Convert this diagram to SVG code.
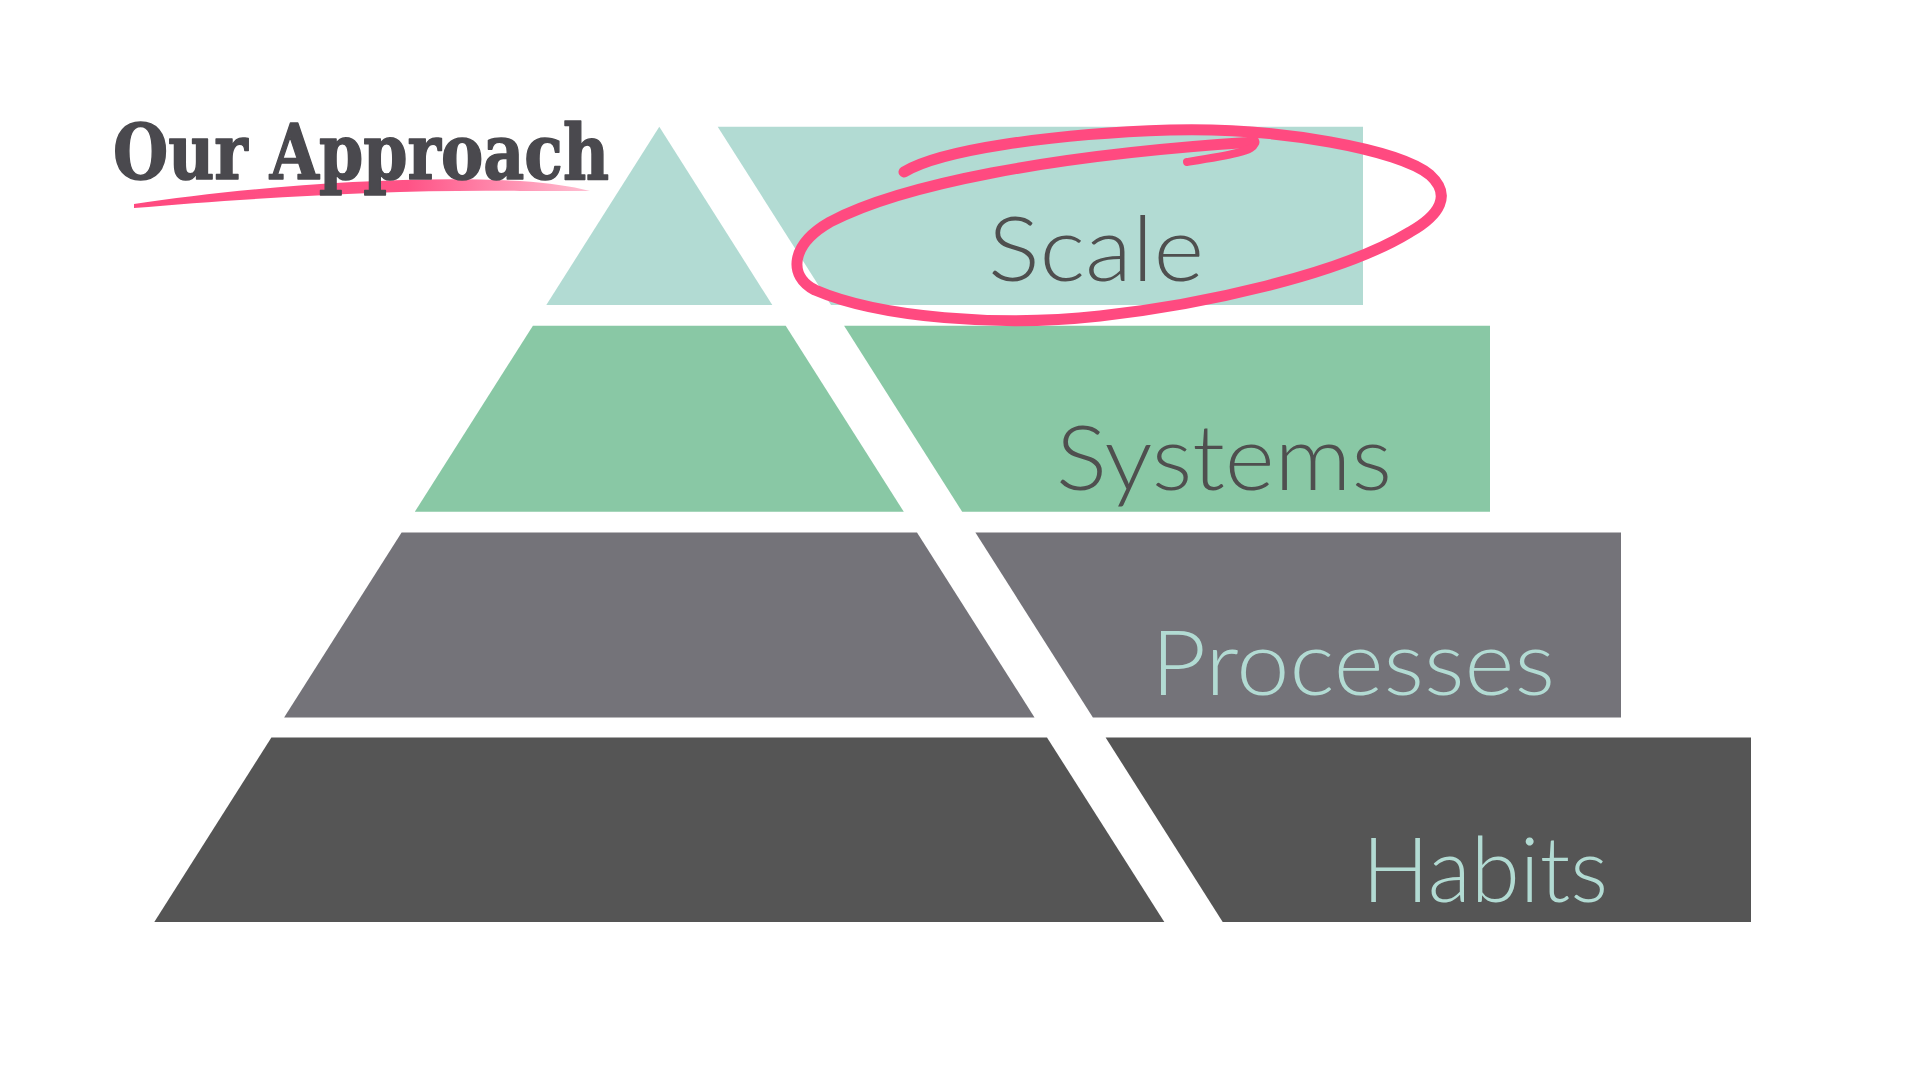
<svg xmlns="http://www.w3.org/2000/svg" width="1920" height="1080" viewBox="0 0 1920 1080">
  <defs>
    <style>
      .t1 { fill: #B2DBD3; }
      .t2 { fill: #89C8A5; }
      .t3 { fill: #747379; }
      .t4 { fill: #555555; }
      .lbl { font-family: Lato, "Open Sans", "Liberation Sans", sans-serif; font-weight: 300; font-size: 90px; }
      .dark { fill: #4F4F4F; }
      .light { fill: #B2DBD3; }
      .title { font-family: "DejaVu Serif", "Liberation Serif", serif; font-weight: bold; font-size: 76px; fill: #4A494E; stroke: #4A494E; stroke-width: 1.6px; stroke-linejoin: round; }
      .pen { fill: none; stroke: #FF4A80; stroke-linecap: round; stroke-linejoin: round; }
    </style>
    <linearGradient id="brush" x1="134" y1="0" x2="590" y2="0" gradientUnits="userSpaceOnUse">
      <stop offset="0" stop-color="#FF4A80" stop-opacity="1"/>
      <stop offset="0.6" stop-color="#FF4A80" stop-opacity="0.95"/>
      <stop offset="1" stop-color="#FF4A80" stop-opacity="0.35"/>
    </linearGradient>
  </defs>
  <rect width="1920" height="1080" fill="#FFFFFF"/>

  <g id="title">
    <path d="M134,204 C240,188 400,174 520,181 C550,183 570,186 590,191 C560,191 540,191 520,191 C400,189 250,198 134,208 Z" fill="url(#brush)"/>
    <text class="title" x="113" y="179" textLength="496" lengthAdjust="spacingAndGlyphs">Our Approach</text>
  </g>

  <g id="tier-scale">
    <polygon class="t1" points="659.3,126.7 772.3,305 546.3,305"/>
    <polygon class="t1" points="717.7,126.7 1363,126.7 1363,305 831,305"/>
    <text class="lbl dark" x="988" y="281" textLength="216" lengthAdjust="spacingAndGlyphs">Scale</text>
  </g>

  <g id="tier-systems">
    <polygon class="t2" points="532.9,325.7 785.7,325.7 903.8,511.8 414.8,511.8"/>
    <polygon class="t2" points="844.1,325.7 1490,325.7 1490,511.8 962.2,511.8"/>
    <text class="lbl dark" x="1056" y="490" textLength="336" lengthAdjust="spacingAndGlyphs">Systems</text>
  </g>

  <g id="tier-processes">
    <polygon class="t3" points="401.6,532.5 917,532.5 1034.5,717.5 284.1,717.5"/>
    <polygon class="t3" points="975.4,532.5 1621,532.5 1621,717.5 1092.9,717.5"/>
    <text class="lbl light" x="1151" y="695" textLength="404" lengthAdjust="spacingAndGlyphs">Processes</text>
  </g>

  <g id="tier-habits">
    <polygon class="t4" points="271.4,737.5 1047,737.5 1164.3,922 154.3,922"/>
    <polygon class="t4" points="1105.6,737.5 1751,737.5 1751,922 1222.7,922"/>
    <text class="lbl light" x="1362" y="902" textLength="246" lengthAdjust="spacingAndGlyphs">Habits</text>
  </g>

  <g id="highlight">
    <path class="pen" stroke-width="11" d="M904,172 C940,150 1050,134 1170,130 C1280,127 1400,150 1430,175 C1452,195 1440,215 1410,232 C1340,275 1200,305 1100,316 C1000,327 880,318 815,290 C788,276 790,245 830,222 C900,185 1050,155 1254,142"/>
    <path class="pen" stroke-width="8" d="M1254,142 C1258,151 1225,156 1187,162"/>
  </g>
</svg>
